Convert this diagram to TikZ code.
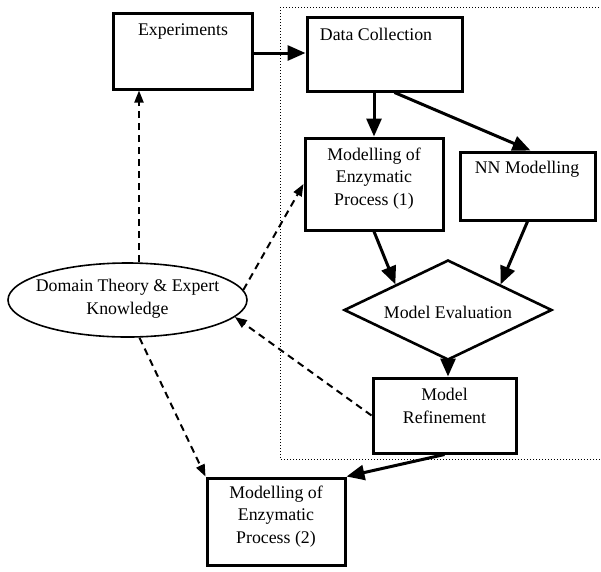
\documentclass[tikz,border=0pt]{standalone}
\usepackage{fontspec}
\setmainfont{Liberation Serif}
\usetikzlibrary{arrows.meta,shapes.geometric}

\tikzset{
  box/.style={draw, line width=3pt, rectangle, inner sep=0pt},
  txt/.style={font=\fontsize{17.8}{22.5}\selectfont, align=center, inner sep=0pt},
  flow/.style={line width=3pt, -{Triangle[length=18pt,width=15pt]}},
  hint/.style={line width=2pt, dash pattern=on 7pt off 5pt,
               -{Triangle[length=12pt,width=9pt]}},
}

\begin{document}
\begin{tikzpicture}[x=1pt,y=-1pt]
\useasboundingbox (0,0) rectangle (601,571);

% region of the data-driven modelling loop
\draw[line width=1pt, dotted] (280,7) -- (606,7);
\draw[line width=1pt, dotted] (280,7) -- (280,459) -- (606,459);

% boxes (text nodes are placed by the baseline of their last line)
\node[box, minimum width=139pt, minimum height=76pt] (exp) at (183,51) {};
\node[txt, anchor=base] (expt) at (183,35) {Experiments};

\node[box, minimum width=155pt, minimum height=74pt] (dc) at (384.5,54) {};
\node[txt, anchor=base] (dct) at (376,40) {Data Collection};

\node[box, minimum width=138pt, minimum height=92pt] (m1) at (374,184) {};
\node[txt, anchor=base] (m1t) at (374,205) {Modelling of\\Enzymatic\\Process (1)};

\node[box, minimum width=135pt, minimum height=68pt] (nn) at (527.5,186) {};
\node[txt, anchor=base] (nnt) at (527,173) {NN Modelling};

\node[draw, diamond, aspect=2.08, line width=2.6pt, minimum width=208pt,
      minimum height=100pt, inner sep=0pt] (ev) at (448,310) {};
\node[txt] (evt) at (448,312) {Model Evaluation};

\node[box, minimum width=143pt, minimum height=75pt] (ref) at (444.5,415.5) {};
\node[txt, anchor=base] (reft) at (444.5,423) {Model\\Refinement};

\node[box, minimum width=138pt, minimum height=87pt] (m2) at (276,521.5) {};
\node[txt, anchor=base] (m2t) at (276,543) {Modelling of\\Enzymatic\\Process (2)};

\node[draw, ellipse, line width=1.6pt, minimum width=239pt, minimum height=74pt,
      inner sep=0pt] (dk) at (127.5,300) {};
\node[txt, anchor=base] (dkt) at (127.5,314) {Domain Theory \& Expert\\Knowledge};

% data flow
\draw[flow] (exp.east |- 0,53) -- (dc.west |- 0,53);
\draw[flow] (m1.north |- dc.south) -- (m1.north);
\draw[flow] ([xshift=10pt]dc.south) -- ([xshift=3pt]nn.north);
\draw[flow] (m1.south) -- (ev.north west);
\draw[flow] (nn.south) -- (ev.north east);
\draw[flow] (ev.south) -- (ref.north -| ev.south);
\draw[flow] (ref.south) -- (m2.north east);

% use of domain knowledge
\draw[hint] ([xshift=11.5pt]dk.north) -- ([xshift=11.5pt]dk.north |- exp.south);
\draw[hint] (dk.5) -- (m1.west);
\draw[hint] (ref.west) -- (dk.-9);
\draw[hint] ([xshift=12pt]dk.south) -- (m2.north west);
\end{tikzpicture}
\end{document}
